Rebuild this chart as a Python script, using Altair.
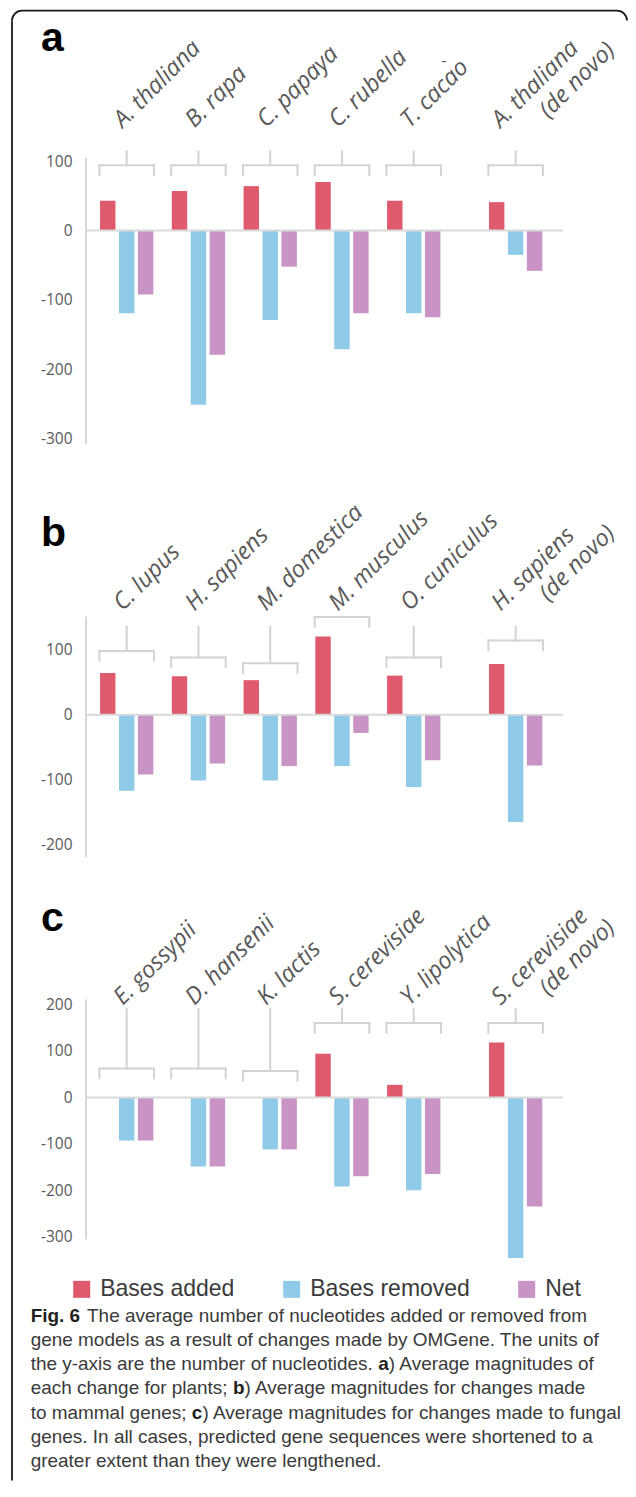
import altair as alt
import pandas as pd

# ---------------- data ----------------
SERIES = ["Bases added", "Bases removed", "Net"]
SERIES_COLORS = ["#DE5A6C", "#8FCBE8", "#C994C5"]

A_SPECIES = ["A. thaliana", "B. rapa", "C. papaya", "C. rubella", "T. cacao", "A. thaliana"]
A_LINE2 = ["", "", "", "", "", "(de novo)"]
A_NOTE = ["", "", "", "", "-", ""]
A_ADDED = [43, 57, 64, 70, 43, 41]
A_REMOVED = [-119, -251, -129, -171, -119, -35]
A_NET = [-92, -179, -52, -119, -125, -58]
A_BRACKET = [94, 94, 94, 94, 94, 94]
A_STEM = 114

B_SPECIES = ["C. lupus", "H. sapiens", "M. domestica", "M. musculus", "O. cuniculus", "H. sapiens"]
B_LINE2 = ["", "", "", "", "", "(de novo)"]
B_ADDED = [64, 59, 53, 120, 60, 78]
B_REMOVED = [-117, -101, -101, -79, -111, -165]
B_NET = [-92, -75, -79, -28, -70, -78]
B_BRACKET = [98, 88, 79, 150, 88, 114]
B_STEM = 135

C_SPECIES = ["E. gossypii", "D. hansenii", "K. lactis", "S. cerevisiae", "Y. lipolytica", "S. cerevisiae"]
C_LINE2 = ["", "", "", "", "", "(de novo)"]
C_ADDED = [0, 0, 0, 94, 27, 118]
C_REMOVED = [-93, -149, -112, -192, -200, -346]
C_NET = [-93, -149, -112, -170, -165, -235]
C_BRACKET = [62, 62, 57, 160, 160, 160]
C_STEM = 190

A_TICKS = [-300, -200, -100, 0, 100]
B_TICKS = [-200, -100, 0, 100]
C_TICKS = [-300, -200, -100, 0, 100, 200]

PANEL_LETTERS = ["a", "b", "c"]

CAPTION_LINES = [
    [("Fig. 6", True), ("The average number of nucleotides added or removed from", False)],
    [("gene models as a result of changes made by OMGene. The units of", False)],
    [("the y-axis are the number of nucleotides.", False), ("a", True), (") Average magnitudes of", False)],
    [("each change for plants;", False), ("b", True), (") Average magnitudes for changes made", False)],
    [("to mammal genes;", False), ("c", True), (") Average magnitudes for changes made to fungal", False)],
    [("genes. In all cases, predicted gene sequences were shortened to a", False)],
    [("greater extent than they were lengthened.", False)],
]

# ---------------- layout / style ----------------
OX, OY = 86.0, 157.5            # page position of panel a plot origin (reference)
CAP_X0 = 30.7
CAP_BASE = 1321.0
CAP_LH = 24.3
CAP_MAX_W = 592.0               # keep the widest caption line inside the page
BORDER_BOTTOM = 1480.0
BORDER_RIGHT_C = 617.0          # centre of the top-right rounded corner

GAP_LAST = 0.42
BAR_OFFSET = 0.264
BAR_WIDTH = 0.215
BRACKET_HALF = 0.38
X_DOMAIN = [-0.567, 6.08]
PLOT_W = 477
LEG_PX = 9.7
SPACING = 141.6

AXIS_GREY = "#d9d9d9"
BRACKET_GREY = "#d3d3d3"
TEXT_GREY = "#595959"
LABEL_FONT = "Open Sans"
LABEL_SIZE = 23.5
CAP_FONT = "Liberation Sans"

one = pd.DataFrame({"k": [0]})

# Arial / Liberation Sans advance widths (1/1000 em), used to place caption segments
_AR = {' ': 278, '(': 333, ')': 333, ',': 278, '-': 333, '.': 278, ';': 278, ':': 278}
_AR.update({d: 556 for d in "0123456789"})
_AR.update(dict(zip("ABCDEFGHIJKLMNOPQRSTUVWXYZ",
                    [667, 667, 722, 722, 667, 611, 778, 722, 278, 500, 667, 556, 833,
                     722, 778, 667, 778, 722, 667, 611, 722, 667, 944, 667, 667, 611])))
_AR.update(dict(zip("abcdefghijklmnopqrstuvwxyz",
                    [556, 556, 500, 556, 556, 278, 556, 556, 222, 222, 500, 222, 833,
                     556, 556, 556, 556, 333, 500, 278, 556, 500, 722, 500, 500, 500])))
_ARB = dict(_AR)
_ARB.update(dict(zip("abcdefghijklmnopqrstuvwxyz",
                     [556, 611, 556, 611, 556, 333, 611, 611, 278, 278, 556, 278, 889,
                      611, 611, 611, 611, 389, 556, 333, 611, 556, 778, 556, 556, 500])))
_ARB.update({'(': 333, ')': 333, ' ': 278, '.': 278})


def w_reg(text, size):
    return sum(_AR.get(c, 556) for c in text) * size / 1000.0


def w_bold(text, size):
    return sum(_ARB.get(c, 611) for c in text) * size / 1000.0


def layout_line(segs, size):
    """x offsets (from line start) of each segment, and total width."""
    xs, x, prev_bold = [], 0.0, None
    for j, (seg, bold) in enumerate(segs):
        if j > 0 and not seg.startswith(")"):
            x += (w_bold if prev_bold else w_reg)(" ", size)
            if prev_bold:
                x += 0.3 * w_reg(" ", size)
        xs.append(x)
        x += (w_bold if bold else w_reg)(seg, size)
        prev_bold = bold
    return xs, x


CAP_SIZE = CAP_MAX_W / max(layout_line(s, 1.0)[1] for s in CAPTION_LINES)


def build_panel(species, line2, added, removed, net, bracket, stem, ydom, axis_range, ticks,
                height, label_y, letter, letter_y, note=None, extra=()):
    n = len(species)
    pos = [i + (GAP_LAST if i == n - 1 else 0.0) for i in range(n)]
    rows = []
    for s, vals in enumerate([added, removed, net]):
        for i in range(n):
            if vals[i] == 0:
                continue
            c = pos[i] + (s - 1) * BAR_OFFSET
            rows.append({"series": SERIES[s], "value": vals[i],
                         "x0": c - BAR_WIDTH / 2, "x1": c + BAR_WIDTH / 2})
    bars_df = pd.DataFrame(rows)
    leg = LEG_PX * (ydom[1] - ydom[0]) / height
    br = pd.DataFrame({"pos": pos, "h": bracket, "species": species, "line2": line2,
                       "note": note if note else [""] * n})
    br["bl"] = br["pos"] - BRACKET_HALF
    br["br"] = br["pos"] + BRACKET_HALF
    br["hl"] = br["h"] - leg
    br["st"] = [max(stem, h) for h in bracket]

    xs = alt.Scale(domain=X_DOMAIN, nice=False, zero=False)
    ys = alt.Scale(domain=ydom, nice=False, zero=False)
    yax = alt.Axis(values=ticks, labelExpr="datum.value + ''", domain=False, ticks=False,
                   grid=False, labelPadding=14, labelFontSize=15.5, labelFont=LABEL_FONT,
                   labelColor=TEXT_GREY, title=None)

    def X(f):
        return alt.X(f, scale=xs, axis=None)

    def Y(f):
        return alt.Y(f, scale=ys, axis=yax)

    bars = alt.Chart(bars_df).mark_bar().encode(
        x=X("x0:Q"), x2="x1:Q", y=Y("value:Q"), y2=alt.Y2(datum=0),
        color=alt.Color("series:N", scale=alt.Scale(domain=SERIES, range=SERIES_COLORS),
                        legend=alt.Legend(orient="none", legendX=-15.8, legendY=1119.5,
                                          direction="horizontal", title=None,
                                          symbolType="square", symbolSize=289,
                                          symbolStrokeWidth=0, labelFontSize=23,
                                          labelFont=CAP_FONT, labelColor="#3a3a3a",
                                          labelOffset=7, columnPadding=45, padding=0,
                                          labelLimit=400)),
    )

    zero = alt.Chart(one).mark_rule(color=AXIS_GREY, strokeWidth=2).encode(
        x=alt.value(0), x2=alt.value(PLOT_W), y=alt.Y(datum=0, scale=ys, axis=yax))
    yline = alt.Chart(one).mark_rule(color=AXIS_GREY, strokeWidth=2).encode(
        x=alt.value(0), y=alt.Y(datum=axis_range[0], scale=ys, axis=yax),
        y2=alt.Y2(datum=axis_range[1]))

    rule = dict(color=BRACKET_GREY, strokeWidth=2, strokeCap="square")
    bh = alt.Chart(br).mark_rule(**rule).encode(x=X("bl:Q"), x2="br:Q", y=Y("h:Q"))
    bll = alt.Chart(br).mark_rule(**rule).encode(x=X("bl:Q"), y=Y("hl:Q"), y2="h:Q")
    blr = alt.Chart(br).mark_rule(**rule).encode(x=X("br:Q"), y=Y("hl:Q"), y2="h:Q")
    bst = alt.Chart(br).mark_rule(**rule).encode(x=X("pos:Q"), y=Y("h:Q"), y2="st:Q")

    tstyle = dict(angle=315, align="left", baseline="alphabetic", font=LABEL_FONT,
                  fontSize=LABEL_SIZE, fontStyle="italic", color=TEXT_GREY)
    single = br[br["line2"] == ""]
    double = br[br["line2"] != ""]
    lab1 = alt.Chart(single).mark_text(dx=-2.8, dy=-2.8, **tstyle).encode(
        x=X("pos:Q"), y=alt.value(label_y), text="species:N")
    lab2 = alt.Chart(double).mark_text(dx=-10.6, dy=-10.6, **tstyle).encode(
        x=X("pos:Q"), y=alt.value(label_y), text="species:N")
    lab3 = alt.Chart(double).mark_text(dx=30.0, dy=16.5, **tstyle).encode(
        x=X("pos:Q"), y=alt.value(label_y), text="line2:N")
    layers = [bars, zero, yline, bh, bll, blr, bst, lab1, lab2, lab3]

    noted = br[br["note"] != ""]
    if len(noted):
        layers.append(alt.Chart(noted).mark_text(
            align="center", baseline="middle", font=LABEL_FONT, fontSize=16,
            color=TEXT_GREY, dx=30, dy=-68).encode(
            x=X("pos:Q"), y=alt.value(label_y), text="note:N"))

    let = alt.Chart(pd.DataFrame({"t": [letter]})).mark_text(
        align="left", baseline="alphabetic", font="Liberation Sans", fontWeight="bold",
        fontSize=41, color="#000000").encode(
        x=alt.value(-45), y=alt.value(letter_y), text="t:N")
    layers.append(let)

    return alt.layer(*(layers + list(extra))).properties(width=PLOT_W, height=height)


# ---------- decorations living in panel a's frame ----------
extra = []
BW = 1.8
bstyle = dict(color="#1a1a1a", strokeWidth=BW)
extra.append(alt.Chart(one).mark_rule(**bstyle).encode(
    x=alt.value(22 - OX), x2=alt.value(BORDER_RIGHT_C - OX), y=alt.value(10 - OY)))
extra.append(alt.Chart(one).mark_rule(**bstyle).encode(
    x=alt.value(12 - OX), y=alt.value(20 - OY), y2=alt.value(BORDER_BOTTOM - OY)))
extra.append(alt.Chart(one).mark_arc(radius=10 + BW / 2, radius2=10 - BW / 2,
                                     theta=4.7124, theta2=6.2832, color="#1a1a1a").encode(
    x=alt.value(22 - OX), y=alt.value(20 - OY)))
extra.append(alt.Chart(one).mark_arc(radius=10 + BW / 2, radius2=10 - BW / 2,
                                     theta=0.0, theta2=1.5708, color="#1a1a1a").encode(
    x=alt.value(BORDER_RIGHT_C - OX), y=alt.value(20 - OY)))

for ln, segs in enumerate(CAPTION_LINES):
    offs, _ = layout_line(segs, CAP_SIZE)
    for (seg, bold), dxp in zip(segs, offs):
        extra.append(alt.Chart(one).mark_text(
            align="left", baseline="alphabetic", font=CAP_FONT, fontSize=CAP_SIZE,
            fontWeight="bold" if bold else "normal",
            color="#1f1f1f" if bold else "#3a3a3a").encode(
            x=alt.value(CAP_X0 + dxp - OX), y=alt.value(CAP_BASE + ln * CAP_LH - OY),
            text=alt.value(seg)))

EXTRA_A = 172.7 - SPACING
A_AX = [-307.3, 104.4]
A_H = 285.8
A_DOM = [A_AX[0] - EXTRA_A * (A_AX[1] - A_AX[0]) / A_H, A_AX[1]]

pa = build_panel(A_SPECIES, A_LINE2, A_ADDED, A_REMOVED, A_NET, A_BRACKET, A_STEM,
                 A_DOM, A_AX, A_TICKS, A_H + EXTRA_A, -29.5, PANEL_LETTERS[0], -107.5,
                 note=A_NOTE, extra=extra)
pb = build_panel(B_SPECIES, B_LINE2, B_ADDED, B_REMOVED, B_NET, B_BRACKET, B_STEM,
                 [-219.2, 150.5], [-219.2, 150.5], B_TICKS, 240.7, -5.0, PANEL_LETTERS[1], -71.0)
pc = build_panel(C_SPECIES, C_LINE2, C_ADDED, C_REMOVED, C_NET, C_BRACKET, C_STEM,
                 [-305.6, 211.2], [-305.6, 211.2], C_TICKS, 240.0, 6.7, PANEL_LETTERS[2], -68.3)

chart = alt.vconcat(pa, pb, pc, spacing=SPACING, bounds="flush").properties(
    padding={"left": 3.0, "top": 1.1, "right": 0, "bottom": 0},
    background="white",
).configure_view(strokeWidth=0)

chart.save("out.html", embed_options={"renderer": "svg", "actions": False})
